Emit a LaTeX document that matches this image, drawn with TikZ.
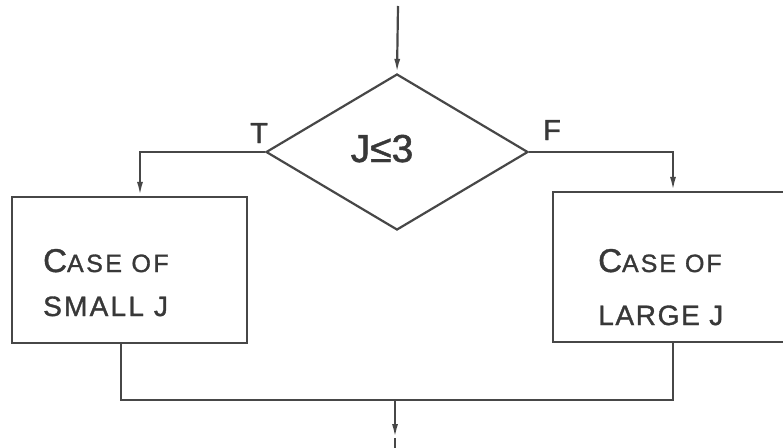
\documentclass[tikz,border=0pt]{standalone}
\usepackage{fontspec}
\setmainfont{Liberation Sans}[FakeBold=1.2]
\usetikzlibrary{shapes.geometric,arrows.meta,calc}
\begin{document}
\begin{tikzpicture}[x=1pt,y=-1pt,
  ln/.style={draw=black!72, line width=2.2pt},
  arr/.style={ln, -{Latex[length=14pt,width=6pt]}},
  decision/.style={diamond, ln, minimum width=262pt, minimum height=156pt, inner sep=0pt, aspect=1.68},
  box/.style={rectangle, ln, inner sep=0pt},
  lbl/.style={text=black!78, inner sep=0pt, anchor=base west},
  tf/.style={text=black!78, inner sep=0pt, anchor=base west, font=\fontsize{29}{29}\selectfont}
]
\clip (0,0) rectangle (783,447);
\fill[white] (0,0) rectangle (783,447);

\node[decision] (d) at (397,152) {};
\node[text=black!78, inner sep=0pt, anchor=base, font=\fontsize{39}{39}\selectfont] (dl) at (382,162) {J≤3};

\node[box, minimum width=235pt, minimum height=146pt] (L) at (129.5,270) {};
\node[box, minimum width=240pt, minimum height=150pt] (R) at (673,267) {};

\coordinate (top) at (398,6);
\coordinate (m) at (395,400);
\coordinate (outtip) at (395,438);
\coordinate (out) at (395,450);

% labels T and F
\node[tf] (T) at (250,143) {T};
\node[tf] (F) at (543,140) {F};

% box texts
\node[lbl] (L1) at (43,272) {\addfontfeature{LetterSpace=10}{\fontsize{33}{33}\selectfont C}{\fontsize{25}{25}\selectfont ASE OF}};
\node[lbl] (L2) at (43,316) {\addfontfeature{LetterSpace=8}\fontsize{28}{28}\selectfont SMALL J};
\node[lbl] (R1) at (598,272) {\addfontfeature{LetterSpace=8}{\fontsize{33}{33}\selectfont C}{\fontsize{25}{25}\selectfont ASE OF}};
\node[lbl] (R2) at (598,325) {\addfontfeature{LetterSpace=6}\fontsize{28}{28}\selectfont LARGE J};

% connectors
\draw[arr] (top) -- (d.north);
\draw[arr] (d.west) -| ([xshift=10.5pt]L.north);
\draw[arr] (d.east) -| ([xshift=0pt]R.north);
\draw[ln] ([xshift=-8.5pt]L.south) |- (m);
\draw[ln] ([xshift=0pt]R.south) |- (m);
\draw[arr] (m) -- (outtip);
\draw[ln] (outtip) -- (out);
\end{tikzpicture}
\end{document}
